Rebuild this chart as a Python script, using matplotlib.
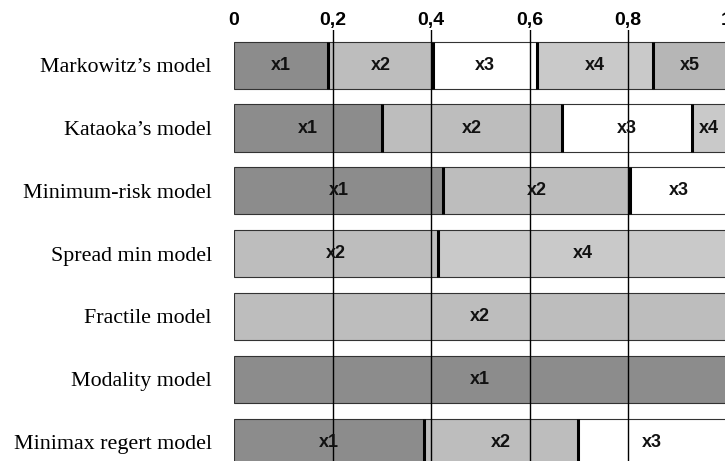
import matplotlib
matplotlib.use("Agg")
import matplotlib.pyplot as plt
import numpy as np

models = ["Markowitz\u2019s model", "Kataoka\u2019s model", "Minimum-risk model",
          "Spread min model", "Fractile model", "Modality model", "Minimax regert model"]
assets = ["x1", "x2", "x3", "x4", "x5"]
x1 = [0.19, 0.30, 0.425, 0.0, 0.0, 1.0, 0.386]
x2 = [0.215, 0.365, 0.38, 0.415, 1.0, 0.0, 0.312]
x3 = [0.21, 0.265, 0.195, 0.0, 0.0, 0.0, 0.302]
x4 = [0.235, 0.07, 0.0, 0.585, 0.0, 0.0, 0.0]
x5 = [0.15, 0.0, 0.0, 0.0, 0.0, 0.0, 0.0]
tick_values = [0, 0.2, 0.4, 0.6, 0.8, 1.0]
tick_labels = ["0", "0,2", "0,4", "0,6", "0,8", "1"]

colors = ["#8c8c8c", "#bdbdbd", "#ffffff", "#c9c9c9", "#b6b6b6"]
shares = np.array([x1, x2, x3, x4, x5])

W, H = 725, 461
fig = plt.figure(figsize=(W / 100, H / 100), dpi=100)
ax_left = 234 / W
ax_top = 1 - 30 / H
ax_w = 492.5 / W
ax = fig.add_axes([ax_left, 0, ax_w, ax_top])

ypos = np.arange(len(models))
bar_h = 0.75
left = np.zeros(len(models))
for i, name in enumerate(assets):
    vals = shares[i]
    mask = vals > 0
    ax.barh(ypos[mask], vals[mask], left=left[mask], height=bar_h,
            color=colors[i], edgecolor="#333333", linewidth=0.8, zorder=2)
    for y, v, l in zip(ypos[mask], vals[mask], left[mask]):
        ax.text(l + v / 2, y, name, ha="center", va="center",
                fontsize=13, fontweight="bold", family="Liberation Sans",
                color="#111111", zorder=5)
    ends = left[mask] + vals[mask]
    for y, e in zip(ypos[mask], ends):
        if e < 0.999:
            ax.vlines(e, y - bar_h / 2, y + bar_h / 2, color="black",
                      linewidth=2.2, zorder=3)
    left = left + vals

for t in tick_values[1:-1]:
    ax.axvline(t, color="black", linewidth=1.0, zorder=4)

ax.set_xlim(0, 1.0)
ax.set_ylim(6.30, -0.56)
ax.xaxis.tick_top()
ax.set_xticks(tick_values)
ax.set_xticklabels(tick_labels, fontsize=14, fontweight="bold", family="Liberation Sans")
ax.tick_params(axis="x", length=0, pad=1)
ax.set_yticks(ypos)
ax.set_yticklabels(models, fontsize=15.8, family="Liberation Serif")
ax.tick_params(axis="y", length=0, pad=16)
for s in ax.spines.values():
    s.set_visible(False)

fig.savefig("out.png", dpi=100)
